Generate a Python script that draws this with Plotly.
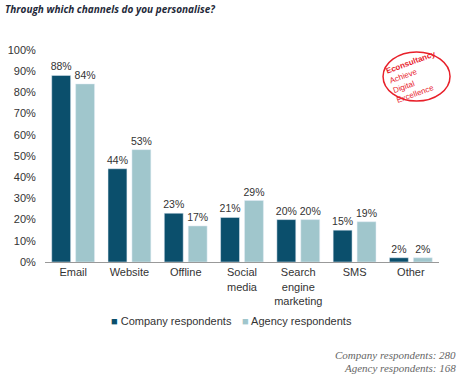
import plotly.graph_objects as go

categories = ["Email", "Website", "Offline", "Social<br>media", "Search<br>engine<br>marketing", "SMS", "Other"]
company = [88, 44, 23, 21, 20, 15, 2]
agency = [84, 53, 17, 29, 20, 19, 2]
series_names = ["Company respondents", "Agency respondents"]
series_colors = ["#0b4f6c", "#a0c6cc"]
y_ticks = list(range(0, 101, 10))
y_tick_labels = [f"{v}%" for v in y_ticks]

font_main = "Liberation Sans, Arial, sans-serif"

fig = go.Figure()
for name, vals, col in zip(series_names, [company, agency], series_colors):
    fig.add_trace(go.Bar(
        x=categories, y=vals, name=name,
        marker=dict(color=col),
        text=[f"{v}%" for v in vals], textposition="outside", constraintext="none",
        textfont=dict(size=10.5, color="#333333", family=font_main), cliponaxis=False,
        showlegend=False,
    ))

legend_annots = []
legend_x = [0.32, 0.64]
for name, col, lx in zip(series_names, series_colors, legend_x):
    legend_annots.append(dict(
        text=f"<span style='color:{col}'>■</span> {name}",
        xref="paper", yref="paper", x=lx, y=-0.278, xanchor="center", yanchor="middle",
        showarrow=False, font=dict(size=11, color="#333333", family=font_main)))

fig.update_layout(
    width=465, height=381,
    margin=dict(l=45, r=26, t=50, b=119, autoexpand=False),
    paper_bgcolor="white", plot_bgcolor="white",
    barmode="group", bargap=0.15, bargroupgap=0.21,
    font=dict(family=font_main, size=11, color="#333333"),
    showlegend=False,
    xaxis=dict(showline=True, linecolor="#999999", linewidth=1, ticks="",
               tickfont=dict(size=11, color="#333333")),
    yaxis=dict(range=[0, 100], tickvals=y_ticks, ticktext=y_tick_labels,
               showgrid=False, showline=False, zeroline=False, ticks="outside",
               ticklen=6, tickcolor="white",
               tickfont=dict(size=11, color="#333333")),
    annotations=[
        dict(text="<b><i>Through which channels do you personalise?</i></b>",
             xref="paper", yref="paper", x=-0.107, y=1.193, xanchor="left", yanchor="middle",
             showarrow=False, font=dict(size=10, color="#1f2a3a", family="Open Sans, sans-serif")),
        dict(text="<i>Company respondents: 280</i>", xref="paper", yref="paper",
             x=1.048, y=-0.439, xanchor="right", yanchor="middle", showarrow=False,
             font=dict(size=11, color="#666666", family="Liberation Serif, serif")),
        dict(text="<i>Agency respondents: 168</i>", xref="paper", yref="paper",
             x=1.048, y=-0.50, xanchor="right", yanchor="middle", showarrow=False,
             font=dict(size=11, color="#666666", family="Liberation Serif, serif")),
        dict(text="<b>Econsultancy</b><br>Achieve<br>Digital<br>Excellence",
             xref="paper", yref="paper", x=0.942, y=0.873, xanchor="center", yanchor="middle",
             showarrow=False, align="left", textangle=-20,
             font=dict(size=8, color="#e8202a", family=font_main)),
    ] + legend_annots,
    shapes=[
        dict(type="circle", xref="paper", yref="paper",
             x0=0.858, x1=1.028, y0=0.759, y1=0.991,
             line=dict(color="#e8202a", width=1.5)),
    ],
)

fig.write_html("out.html", config={"displayModeBar": False},
               post_script="document.body.style.margin='0';")
